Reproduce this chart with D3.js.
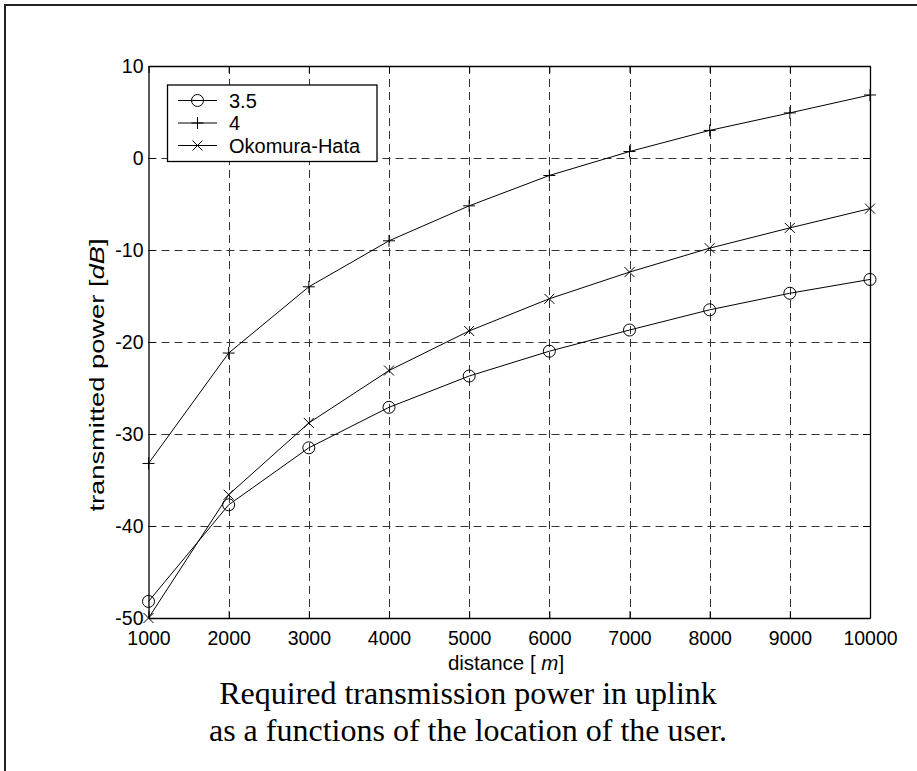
<!DOCTYPE html>
<html>
<head>
<meta charset="utf-8">
<script src="https://cdn.jsdelivr.net/npm/d3@7"></script>
<style>
  html, body { margin: 0; padding: 0; background: #fff; }
  svg { display: block; }
</style>
</head>
<body>
<svg id="chart" width="917" height="771"></svg>
<script>
// Distances (m) and transmitted power (dB) for each path-loss model
const distances = [1000, 2000, 3000, 4000, 5000, 6000, 7000, 8000, 9000, 10000];
const exp35 = [-48.2, -37.7, -31.5, -27.1, -23.7, -21.0, -18.7, -16.5, -14.7, -13.2];
const exp4 = [-33.2, -21.2, -14.0, -9.0, -5.2, -1.9, 0.7, 3.0, 4.9, 6.85];
const okumuraHata = [-50.0, -36.6, -28.8, -23.1, -18.8, -15.3, -12.4, -9.8, -7.6, -5.5];
const seriesNames = ["3.5", "4", "Okomura-Hata"];
const seriesMarkers = ["circle", "plus", "cross"];
const xTicks = [1000, 2000, 3000, 4000, 5000, 6000, 7000, 8000, 9000, 10000];
const yTicks = [-50, -40, -30, -20, -10, 0, 10];

const series = [exp35, exp4, okumuraHata].map((vals, i) => ({
  name: seriesNames[i],
  marker: seriesMarkers[i],
  points: distances.map((d, j) => ({ x: d, y: vals[j] }))
}));

const svg = d3.select("#chart");
const plot = { left: 148.5, right: 870, top: 66, bottom: 618 };

const x = d3.scaleLinear().domain([1000, 10000]).range([plot.left, plot.right]);
const y = d3.scaleLinear().domain([-50, 10]).range([plot.bottom, plot.top]);

// Page frame
svg.append("path")
  .attr("d", "M5,775 L5,5 L920,5")
  .attr("fill", "none").attr("stroke", "#222").attr("stroke-width", 2);

// Dashed grid
const grid = svg.append("g").attr("stroke", "#333").attr("stroke-width", 1)
  .attr("stroke-dasharray", "8,5");
grid.selectAll("line.v").data(xTicks.slice(1, -1)).join("line")
  .attr("x1", d => Math.round(x(d)) + 0.5).attr("x2", d => Math.round(x(d)) + 0.5)
  .attr("y1", plot.top).attr("y2", plot.bottom);
grid.selectAll("line.h").data(yTicks.slice(1, -1)).join("line")
  .attr("y1", d => Math.round(y(d)) + 0.5).attr("y2", d => Math.round(y(d)) + 0.5)
  .attr("x1", plot.left).attr("x2", plot.right);

const font = "'Liberation Sans', Arial, sans-serif";
const plain = d => String(d);

// Axes: ticks drawn inward on all four sides
const axisStyle = g => {
  g.attr("font-size", null).attr("font-family", null);
  g.selectAll("path.domain").attr("stroke", "#000").attr("stroke-width", 1.3);
  g.selectAll(".tick line").attr("stroke", "#000");
  g.selectAll("text").style("font-family", font).style("font-size", "19.5px").attr("fill", "#000");
};

svg.append("g").attr("transform", `translate(0,${plot.bottom})`)
  .call(d3.axisBottom(x).tickValues(xTicks).tickFormat(plain).tickSizeInner(-7).tickSizeOuter(0).tickPadding(13))
  .call(axisStyle);
svg.append("g").attr("transform", `translate(0,${plot.top})`)
  .call(d3.axisTop(x).tickValues(xTicks).tickFormat("").tickSizeInner(-7).tickSizeOuter(0))
  .call(axisStyle);
svg.append("g").attr("transform", `translate(${plot.left},0)`)
  .call(d3.axisLeft(y).tickValues(yTicks).tickFormat(plain).tickSizeInner(-7).tickSizeOuter(0).tickPadding(5))
  .call(axisStyle);
svg.append("g").attr("transform", `translate(${plot.right},0)`)
  .call(d3.axisRight(y).tickValues(yTicks).tickFormat("").tickSizeInner(-7).tickSizeOuter(0))
  .call(axisStyle);

// Marker shapes
function drawMarker(g, type, cx, cy) {
  if (type === "circle") {
    g.append("circle").attr("cx", cx).attr("cy", cy).attr("r", 6)
      .attr("fill", "none").attr("stroke", "#000").attr("stroke-width", 1);
  } else if (type === "plus") {
    g.append("path").attr("d", `M${cx - 6},${cy}H${cx + 6}M${cx},${cy - 6}V${cy + 6}`)
      .attr("stroke", "#000").attr("stroke-width", 1);
  } else {
    g.append("path").attr("d", `M${cx - 5},${cy - 5}L${cx + 5},${cy + 5}M${cx - 5},${cy + 5}L${cx + 5},${cy - 5}`)
      .attr("stroke", "#000").attr("stroke-width", 1);
  }
}

// Series lines with markers
const line = d3.line().x(d => x(d.x)).y(d => y(d.y));
series.forEach(s => {
  const g = svg.append("g");
  g.append("path").datum(s.points).attr("d", line)
    .attr("fill", "none").attr("stroke", "#000").attr("stroke-width", 1);
  s.points.forEach(p => drawMarker(g, s.marker, x(p.x), y(p.y)));
});

// Legend
const legend = svg.append("g");
legend.append("rect").attr("x", 167.5).attr("y", 85).attr("width", 209.5).attr("height", 76.5)
  .attr("fill", "#fff").attr("stroke", "#000").attr("stroke-width", 1.3);
series.forEach((s, i) => {
  const ly = 100.5 + i * 22.5;
  legend.append("line").attr("x1", 178).attr("x2", 217).attr("y1", ly).attr("y2", ly)
    .attr("stroke", "#000").attr("stroke-width", 1);
  drawMarker(legend, s.marker, 197.5, ly);
  legend.append("text").attr("x", 229).attr("y", ly + 7)
    .attr("font-family", font).attr("font-size", 20).text(s.name);
});

// Axis title made of plain and italic runs, laid out one after another and centred
function runTitle(parent, runs, size) {
  const g = parent.append("g");
  let offset = 0;
  const nodes = runs.map(r => {
    const t = g.append("text").attr("font-family", font).attr("font-size", size)
      .attr("font-style", r.italic ? "italic" : "normal").style("white-space", "pre")
      .attr("y", 0).text(r.text);
    t.attr("x", offset);
    offset += t.node().getComputedTextLength();
    return t;
  });
  nodes.forEach(t => t.attr("x", +t.attr("x") - offset / 2));
  return g;
}

runTitle(svg, [{ text: "distance [ " }, { text: "m", italic: true }, { text: "]" }], 20.5)
  .attr("transform", "translate(506,670)");

// y title is drawn a little wider than its natural proportions
runTitle(svg, [{ text: "transmitted power [" }, { text: "dB", italic: true }, { text: "]" }], 21)
  .attr("transform", "translate(104,375) rotate(-90) scale(1.3,1)");

// Caption
const serif = "'Liberation Serif', 'Times New Roman', serif";
svg.append("text").attr("x", 468).attr("y", 704).attr("text-anchor", "middle")
  .attr("font-family", serif).attr("font-size", 32).text("Required transmission power in uplink");
svg.append("text").attr("x", 468).attr("y", 741).attr("text-anchor", "middle")
  .attr("font-family", serif).attr("font-size", 32).text("as a functions of the location of the user.");
</script>
</body>
</html>
